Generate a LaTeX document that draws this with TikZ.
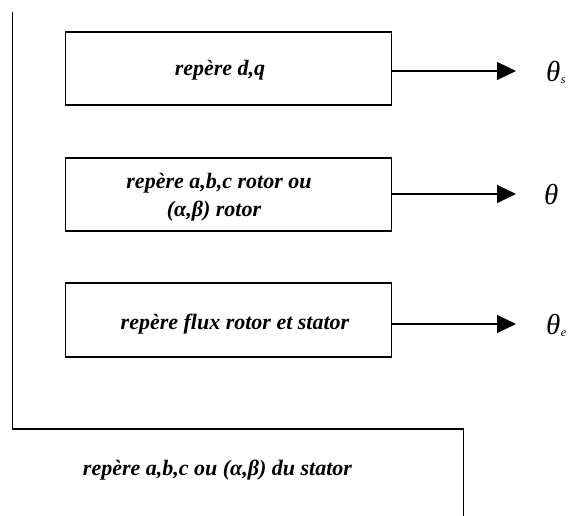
\documentclass[tikz,border=0pt]{standalone}
\usepackage{fontspec}
\setmainfont{Liberation Serif}
\usetikzlibrary{arrows.meta}
\begin{document}
\begin{tikzpicture}[x=1pt,y=-1pt,
  lbl/.style={font=\fontsize{22}{26}\selectfont\bfseries\itshape, inner sep=0pt},
  frame/.style={draw, line width=1.3pt, inner sep=0pt, minimum width=326pt},
  arr/.style={line width=1.1pt, -{Triangle[length=19pt,width=18pt]}},
  th/.style={font=\fontsize{29}{31}\selectfont\itshape, inner sep=0pt, anchor=west},
  sub/.style={font=\fontsize{12}{13}\selectfont\itshape, inner sep=0pt, anchor=west}]
\useasboundingbox (0,0) rectangle (571,516);
% left L-shaped line and bottom region
\coordinate (t0) at (12.7,12);
\coordinate (c0) at (12.7,429);
\coordinate (c1) at (463.6,429);
\coordinate (c2) at (463.6,516);
\draw[line width=1.3pt] (t0) -- (c0) -- (c1) -- (c2);
% boxes
\node[frame, minimum height=73pt] (b1) at (228.5,68.5) {};
\node[frame, minimum height=73pt] (b2) at (228.5,194.5) {};
\node[frame, minimum height=74pt] (b3) at (228.5,320) {};
\node[lbl] (l1) at (220,70) {repère d,q};
\node[lbl] (l2a) at (219,183) {repère a,b,c rotor ou};
\node[lbl] (l2b) at (214,211) {(α,β) rotor};
\node[lbl] (l3) at (235,324) {repère flux rotor et stator};
\node[lbl] (l4) at (217.5,470) {repère a,b,c ou (α,β) du stator};
% outputs
\coordinate (e1) at (516,71);
\coordinate (e2) at (516,194);
\coordinate (e3) at (516,324);
\draw[arr] (b1.east |- e1) -- (e1);
\draw[arr] (b2.east |- e2) -- (e2);
\draw[arr] (b3.east |- e3) -- (e3);
\node[th] (th1) at (546,72) {θ};
\node[sub] (s1) at (th1.south east) [yshift=2pt] {s};
\node[th] (th2) at (544,195) {θ};
\node[th] (th3) at (546,325) {θ};
\node[sub] (s3) at (th3.south east) [yshift=2pt] {e};
\end{tikzpicture}
\end{document}
